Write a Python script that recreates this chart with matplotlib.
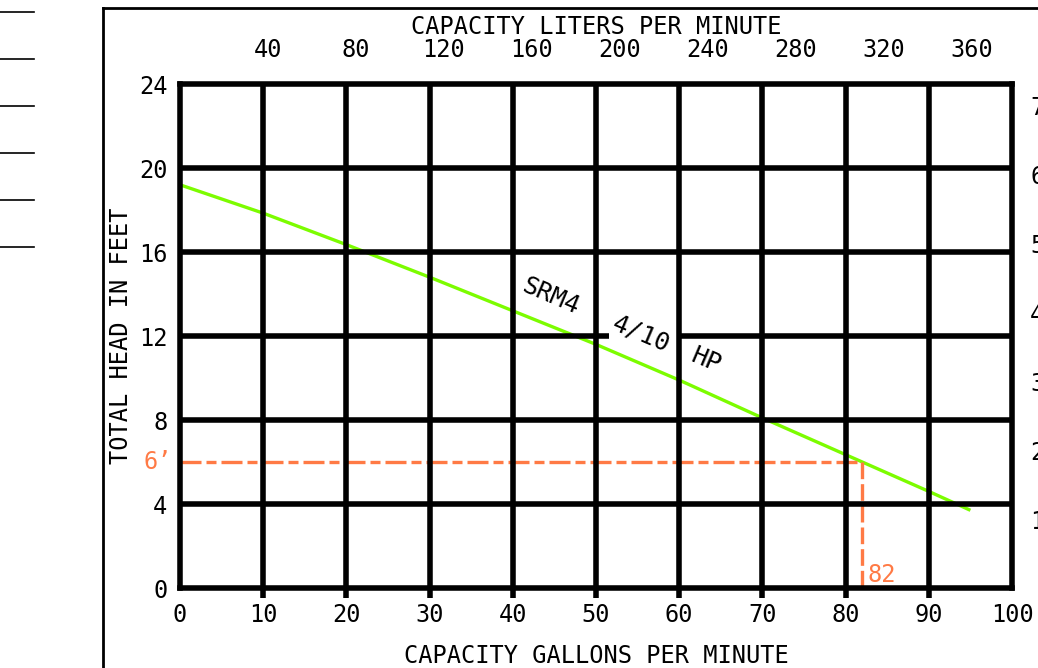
import matplotlib.pyplot as plt
from matplotlib.lines import Line2D

# pump curve SRM4 4/10 HP
gpm = [0, 10, 20, 30, 40, 50, 60, 70, 80, 90, 95]
head_ft = [19.2, 17.85, 16.35, 14.8, 13.2, 11.6, 9.9, 8.1, 6.35, 4.6, 3.7]

gpm_ticks = [0, 10, 20, 30, 40, 50, 60, 70, 80, 90, 100]
ft_ticks = [0, 4, 8, 12, 16, 20, 24]
lpm_ticks = [40, 80, 120, 160, 200, 240, 280, 320, 360]
m_ticks = [1, 2, 3, 4, 5, 6, 7]

duty_gpm = 82
duty_ft = 6
label_gap = (51.6, 60)  # where "4/10" sits on the 12 ft line

LPM_PER_GPM = 3.785
M_PER_FT = 0.3048

plt.rcParams['font.family'] = ['DejaVu Sans Mono']
plt.rcParams['font.size'] = 17

W, H = 1038, 668
fig = plt.figure(figsize=(W / 100, H / 100), dpi=100)
ax = fig.add_axes([180 / W, 1 - 588 / H, 832 / W, 504 / H])
ax.set_xlim(0, 100)
ax.set_ylim(0, 24)

# curve + duty point lines (drawn under the grid)
ax.plot(gpm, head_ft, color='#7cfc00', lw=2.4, zorder=2, solid_capstyle='butt')
orange = '#ff7a45'
ax.plot([0, duty_gpm], [duty_ft, duty_ft], color=orange, lw=2.4, zorder=2,
        dashes=(6.3, 1.5, 3, 1.5), dash_capstyle='butt')
ax.plot([duty_gpm, duty_gpm], [duty_ft, 0], color=orange, lw=2.4, zorder=2,
        dashes=(5, 1.5), dash_capstyle='butt')

# heavy grid
for g in gpm_ticks[1:-1]:
    ax.vlines(g, 0, 24, color='black', lw=4, zorder=4)
for h in ft_ticks[1:-1]:
    if h == 12:
        ax.hlines(h, 0, label_gap[0], color='black', lw=4, zorder=4)
        ax.hlines(h, label_gap[1], 100, color='black', lw=4, zorder=4)
    else:
        ax.hlines(h, 0, 100, color='black', lw=4, zorder=4)
for s in ax.spines.values():
    s.set_linewidth(4)
    s.set_zorder(5)

ax.set_xticks(gpm_ticks)
ax.set_yticks(ft_ticks)
ax.tick_params(axis='x', length=7, width=4, pad=4)
ax.tick_params(axis='y', length=0, pad=9)
ax.xaxis.get_major_ticks()[0].tick1line.set_visible(False)
ax.xaxis.get_major_ticks()[-1].tick1line.set_visible(False)
ax.set_xlabel('CAPACITY GALLONS PER MINUTE', labelpad=12)
ax.set_ylabel('TOTAL HEAD IN FEET', labelpad=4)

# liters per minute along the top
top = ax.secondary_xaxis('top', functions=(lambda g: g * LPM_PER_GPM,
                                           lambda l: l / LPM_PER_GPM))
top.set_xticks(lpm_ticks)
top.tick_params(length=0, pad=16)
top.spines['top'].set_visible(False)
top.set_xlabel('CAPACITY LITERS PER MINUTE', labelpad=3)

# meters on the right (cut off by the sheet edge)
right = ax.secondary_yaxis('right', functions=(lambda f: f * M_PER_FT,
                                               lambda m: m / M_PER_FT))
right.set_yticks(m_ticks)
right.tick_params(length=0, pad=13)
right.spines['right'].set_visible(False)

# curve labels
for txt, x, y in [('SRM4', 44.5, 13.9), ('4/10', 55.4, 12.1), ('HP', 63.2, 10.86)]:
    ax.text(x, y, txt, rotation=-23, ha='center', va='center',
            rotation_mode='anchor', zorder=6, fontsize=18)

ax.annotate("6\u2019", (0, duty_ft), xytext=(-6, 0), textcoords='offset points',
            ha='right', va='center', color=orange, annotation_clip=False)
ax.annotate(str(duty_gpm), (duty_gpm, 0), xytext=(4, 1), textcoords='offset points',
            ha='left', va='bottom', color=orange, annotation_clip=False)

# sheet border and title block stubs
fig.add_artist(Line2D([103 / W, 103 / W], [0, 1 - 8 / H], color='black', lw=2))
fig.add_artist(Line2D([103 / W, 1], [1 - 8 / H, 1 - 8 / H], color='black', lw=2))
for yy in [12, 59, 106, 153, 200, 247]:
    fig.add_artist(Line2D([0, 34 / W], [1 - yy / H, 1 - yy / H], color='black', lw=1.2))

fig.savefig('out.png', dpi=100)
